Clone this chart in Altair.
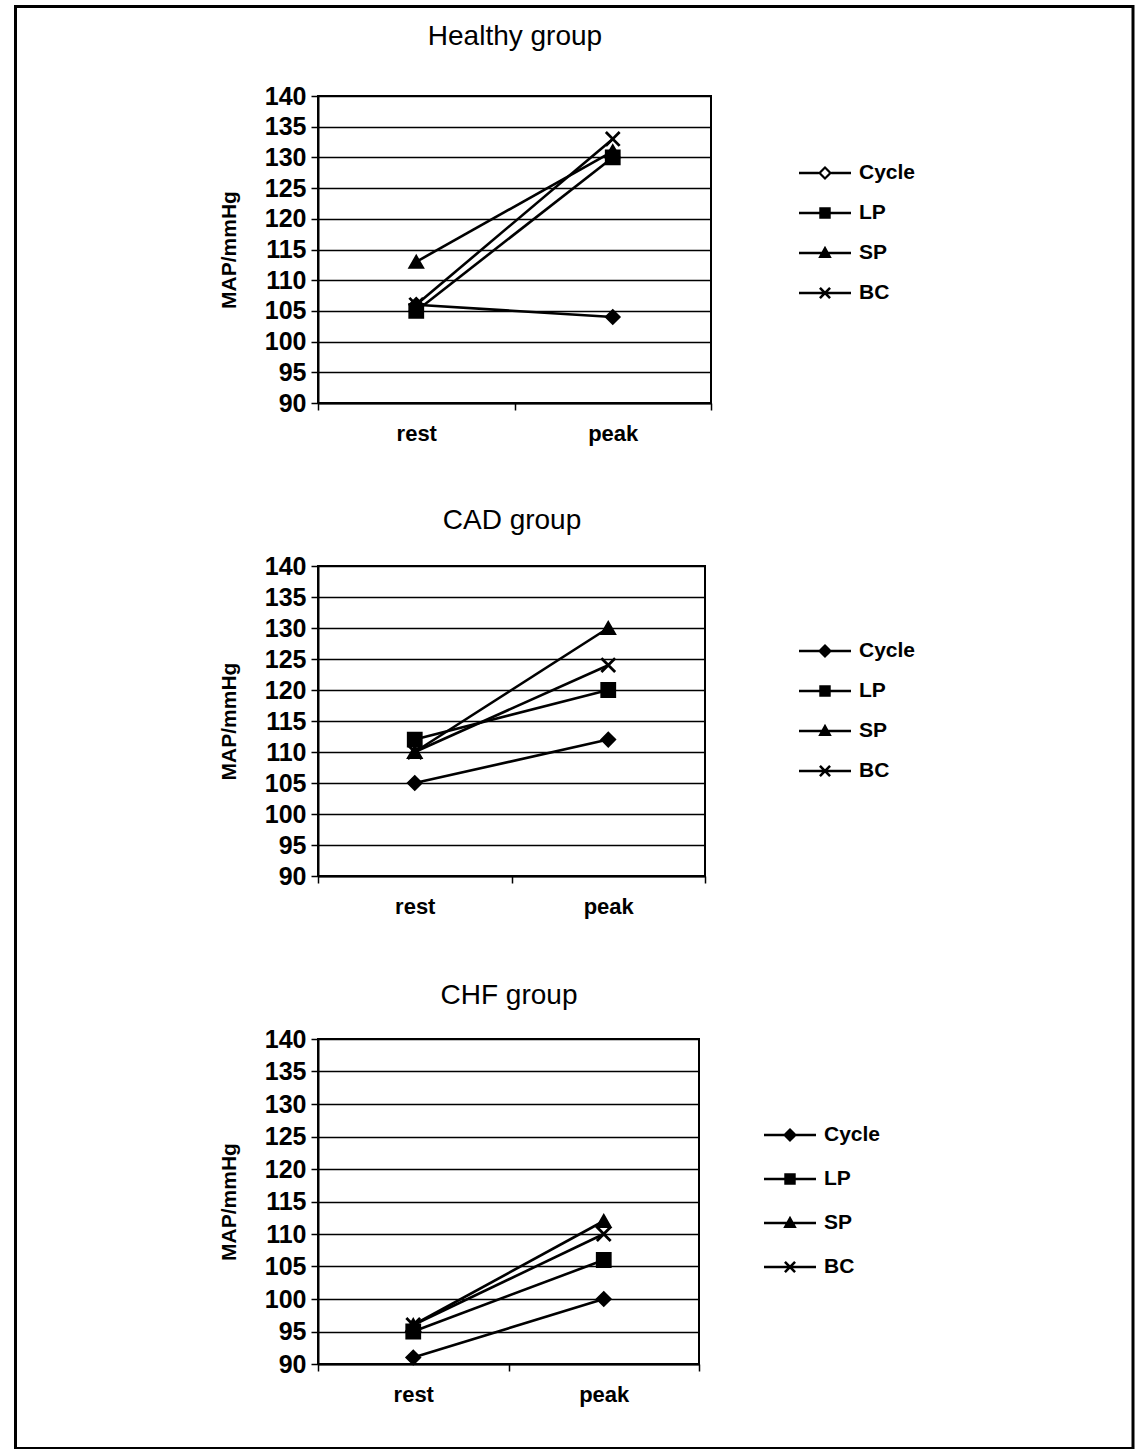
import altair as alt
import pandas as pd

# Mean arterial pressure at rest and at peak exercise, per exercise mode
groups = ["Healthy group", "CAD group", "CHF group"]
series = ["Cycle", "LP", "SP", "BC"]
stages = ["rest", "peak"]

healthy_rest = [106, 105, 113, 106]
healthy_peak = [104, 130, 131, 133]
cad_rest = [105, 112, 110, 110]
cad_peak = [112, 120, 130, 124]
chf_rest = [91, 95, 96, 96]
chf_peak = [100, 106, 112, 110]

y_ticks = list(range(90, 141, 5))

FONT = "Liberation Sans"

# marker shapes drawn on the lines, with their outline widths
marker_paths = ["diamond", "square", "triangle-up", "M-1,-1L1,1M-1,1L1,-1"]
marker_strokes = [2, 2, 2, 2.8]

# legend keys: a short line with the marker in its middle, all as filled outlines
KEY_LINE = "M-1,-0.045L1,-0.045L1,0.045L-1,0.045Z"
KEY_X = ("M-0.23,-0.16L-0.16,-0.23L0.23,0.16L0.16,0.23Z"
         "M-0.16,0.23L-0.23,0.16L0.16,-0.23L0.23,-0.16Z")
legend_paths = [
    KEY_LINE + "M0,-0.27L0.27,0L0,0.27L-0.27,0Z",
    KEY_LINE + "M-0.22,-0.22L0.22,-0.22L0.22,0.22L-0.22,0.22Z",
    KEY_LINE + "M0,-0.28L0.26,0.19L-0.26,0.19Z",
    KEY_LINE + KEY_X,
]
# open diamond key: line stops at the outline, inner hole wound the other way
open_diamond_key = (
    "M-1,-0.045L-0.24,-0.045L-0.24,0.045L-1,0.045Z"
    "M0.24,-0.045L1,-0.045L1,0.045L0.24,0.045Z"
    "M0,-0.27L0.27,0L0,0.27L-0.27,0Z"
    "M0,-0.15L-0.15,0L0,0.15L0.15,0Z"
)


def panel(title, rest, peak, width, height, legend_x, legend_y, row_h,
          title_pad, key_paths, with_frame=False):
    df = pd.DataFrame({
        "series": series * 2,
        "stage": [stages[0]] * len(series) + [stages[1]] * len(series),
        "map": rest + peak,
    })
    base = alt.Chart(df)

    x_scale = alt.Scale(type="band", paddingInner=0, paddingOuter=0)
    y_enc = alt.Y(
        "map:Q",
        scale=alt.Scale(domain=[90, 140], nice=False, zero=False),
        axis=alt.Axis(
            values=y_ticks, title="MAP/mmHg", grid=True,
            gridColor="black", gridWidth=1.4, gridOpacity=1,
            domainColor="black", domainWidth=2,
            tickColor="black", tickSize=7, tickWidth=1.5,
            labelFont=FONT, labelFontSize=25, labelFontWeight="bold",
            labelColor="black", labelPadding=5, labelFlush=False,
            titleFont=FONT, titleFontSize=21, titleFontWeight="bold",
            titleColor="black", titlePadding=25,
        ),
    )

    lines = base.mark_line(color="black", strokeWidth=2.6).encode(
        x=alt.X("stage:N", sort=stages, scale=x_scale, bandPosition=0.5,
                axis=alt.Axis(
                    title=None, tickBand="extent", grid=False,
                    domainColor="black", domainWidth=2,
                    tickColor="black", tickSize=7, tickWidth=1.5,
                    labelFont=FONT, labelFontSize=22, labelFontWeight="bold",
                    labelColor="black", labelPadding=13, labelAngle=0,
                )),
        y=y_enc,
        detail="series:N",
    )

    # one marker layer per series, each with its own fixed shape
    point_layers = []
    for name, shape, sw in zip(series, marker_paths, marker_strokes):
        point_layers.append(
            base.transform_filter(alt.datum.series == name)
            .mark_point(filled=True, fill="black", stroke="black",
                        strokeWidth=sw, size=190, opacity=1)
            .encode(
                x=alt.X("stage:N", sort=stages, scale=x_scale,
                        bandPosition=0.5, axis=None),
                y=y_enc,
                shape=alt.value(shape),
            )
        )

    # carries the panel heading (as a top axis title) and the legend
    keys = base.mark_point(
        filled=True, fill="black", stroke="black", strokeWidth=2,
        size=2704, opacity=0,
    ).encode(
        x=alt.X("stage:N", sort=stages, scale=x_scale, bandPosition=0.5,
                axis=alt.Axis(
                    orient="top", title=title, labels=False, ticks=False,
                    domain=False, grid=False,
                    titleFont=FONT, titleFontSize=28, titleFontWeight="normal",
                    titleColor="black", titlePadding=title_pad,
                    titleBaseline="alphabetic",
                )),
        y=y_enc,
        shape=alt.Shape(
            "series:N", sort=series,
            scale=alt.Scale(domain=series, range=key_paths),
            legend=alt.Legend(
                title=None, orient="none", legendX=legend_x, legendY=legend_y,
                symbolSize=2704, symbolOpacity=1, symbolFillColor="black",
                symbolStrokeColor="black", symbolStrokeWidth=0,
                labelFont=FONT, labelFontSize=21, labelFontWeight="bold",
                labelColor="black", labelOffset=8,
                clipHeight=row_h, rowPadding=0, padding=0,
            ),
        ),
    )

    layers = [lines] + point_layers + [keys]
    if with_frame:
        # page border around all three panels
        frame = alt.Chart(pd.DataFrame({"f": [0]})).mark_rect(
            fill="white", fillOpacity=0, stroke="black", strokeWidth=3,
        ).encode(
            x=alt.value(-302.5), x2=alt.value(815),
            y=alt.value(-89.5), y2=alt.value(1352.5),
        )
        layers = [frame] + layers

    return (
        alt.layer(*layers)
        .resolve_axis(x="independent")
        .properties(width=width, height=height)
    )


p1 = panel(groups[0], healthy_rest, healthy_peak, 393, 307, 481, 57, 40, 52,
           [open_diamond_key] + legend_paths[1:], with_frame=True)
p2 = panel(groups[1], cad_rest, cad_peak, 387, 310, 481, 65, 40, 38,
           legend_paths)
p3 = panel(groups[2], chf_rest, chf_peak, 381, 325, 446, 74, 44, 36,
           legend_paths)

chart = (
    alt.vconcat(p1, p2, p3, spacing=163, bounds="flush")
    .resolve_scale(shape="independent")
    .resolve_legend(shape="independent")
    .properties(padding={"left": 13, "top": 4, "right": 0, "bottom": 0},
                background="white")
    .configure_view(stroke="black", strokeWidth=2, fill="white")
)

chart.save("out.html", embed_options={"renderer": "svg", "actions": False})
